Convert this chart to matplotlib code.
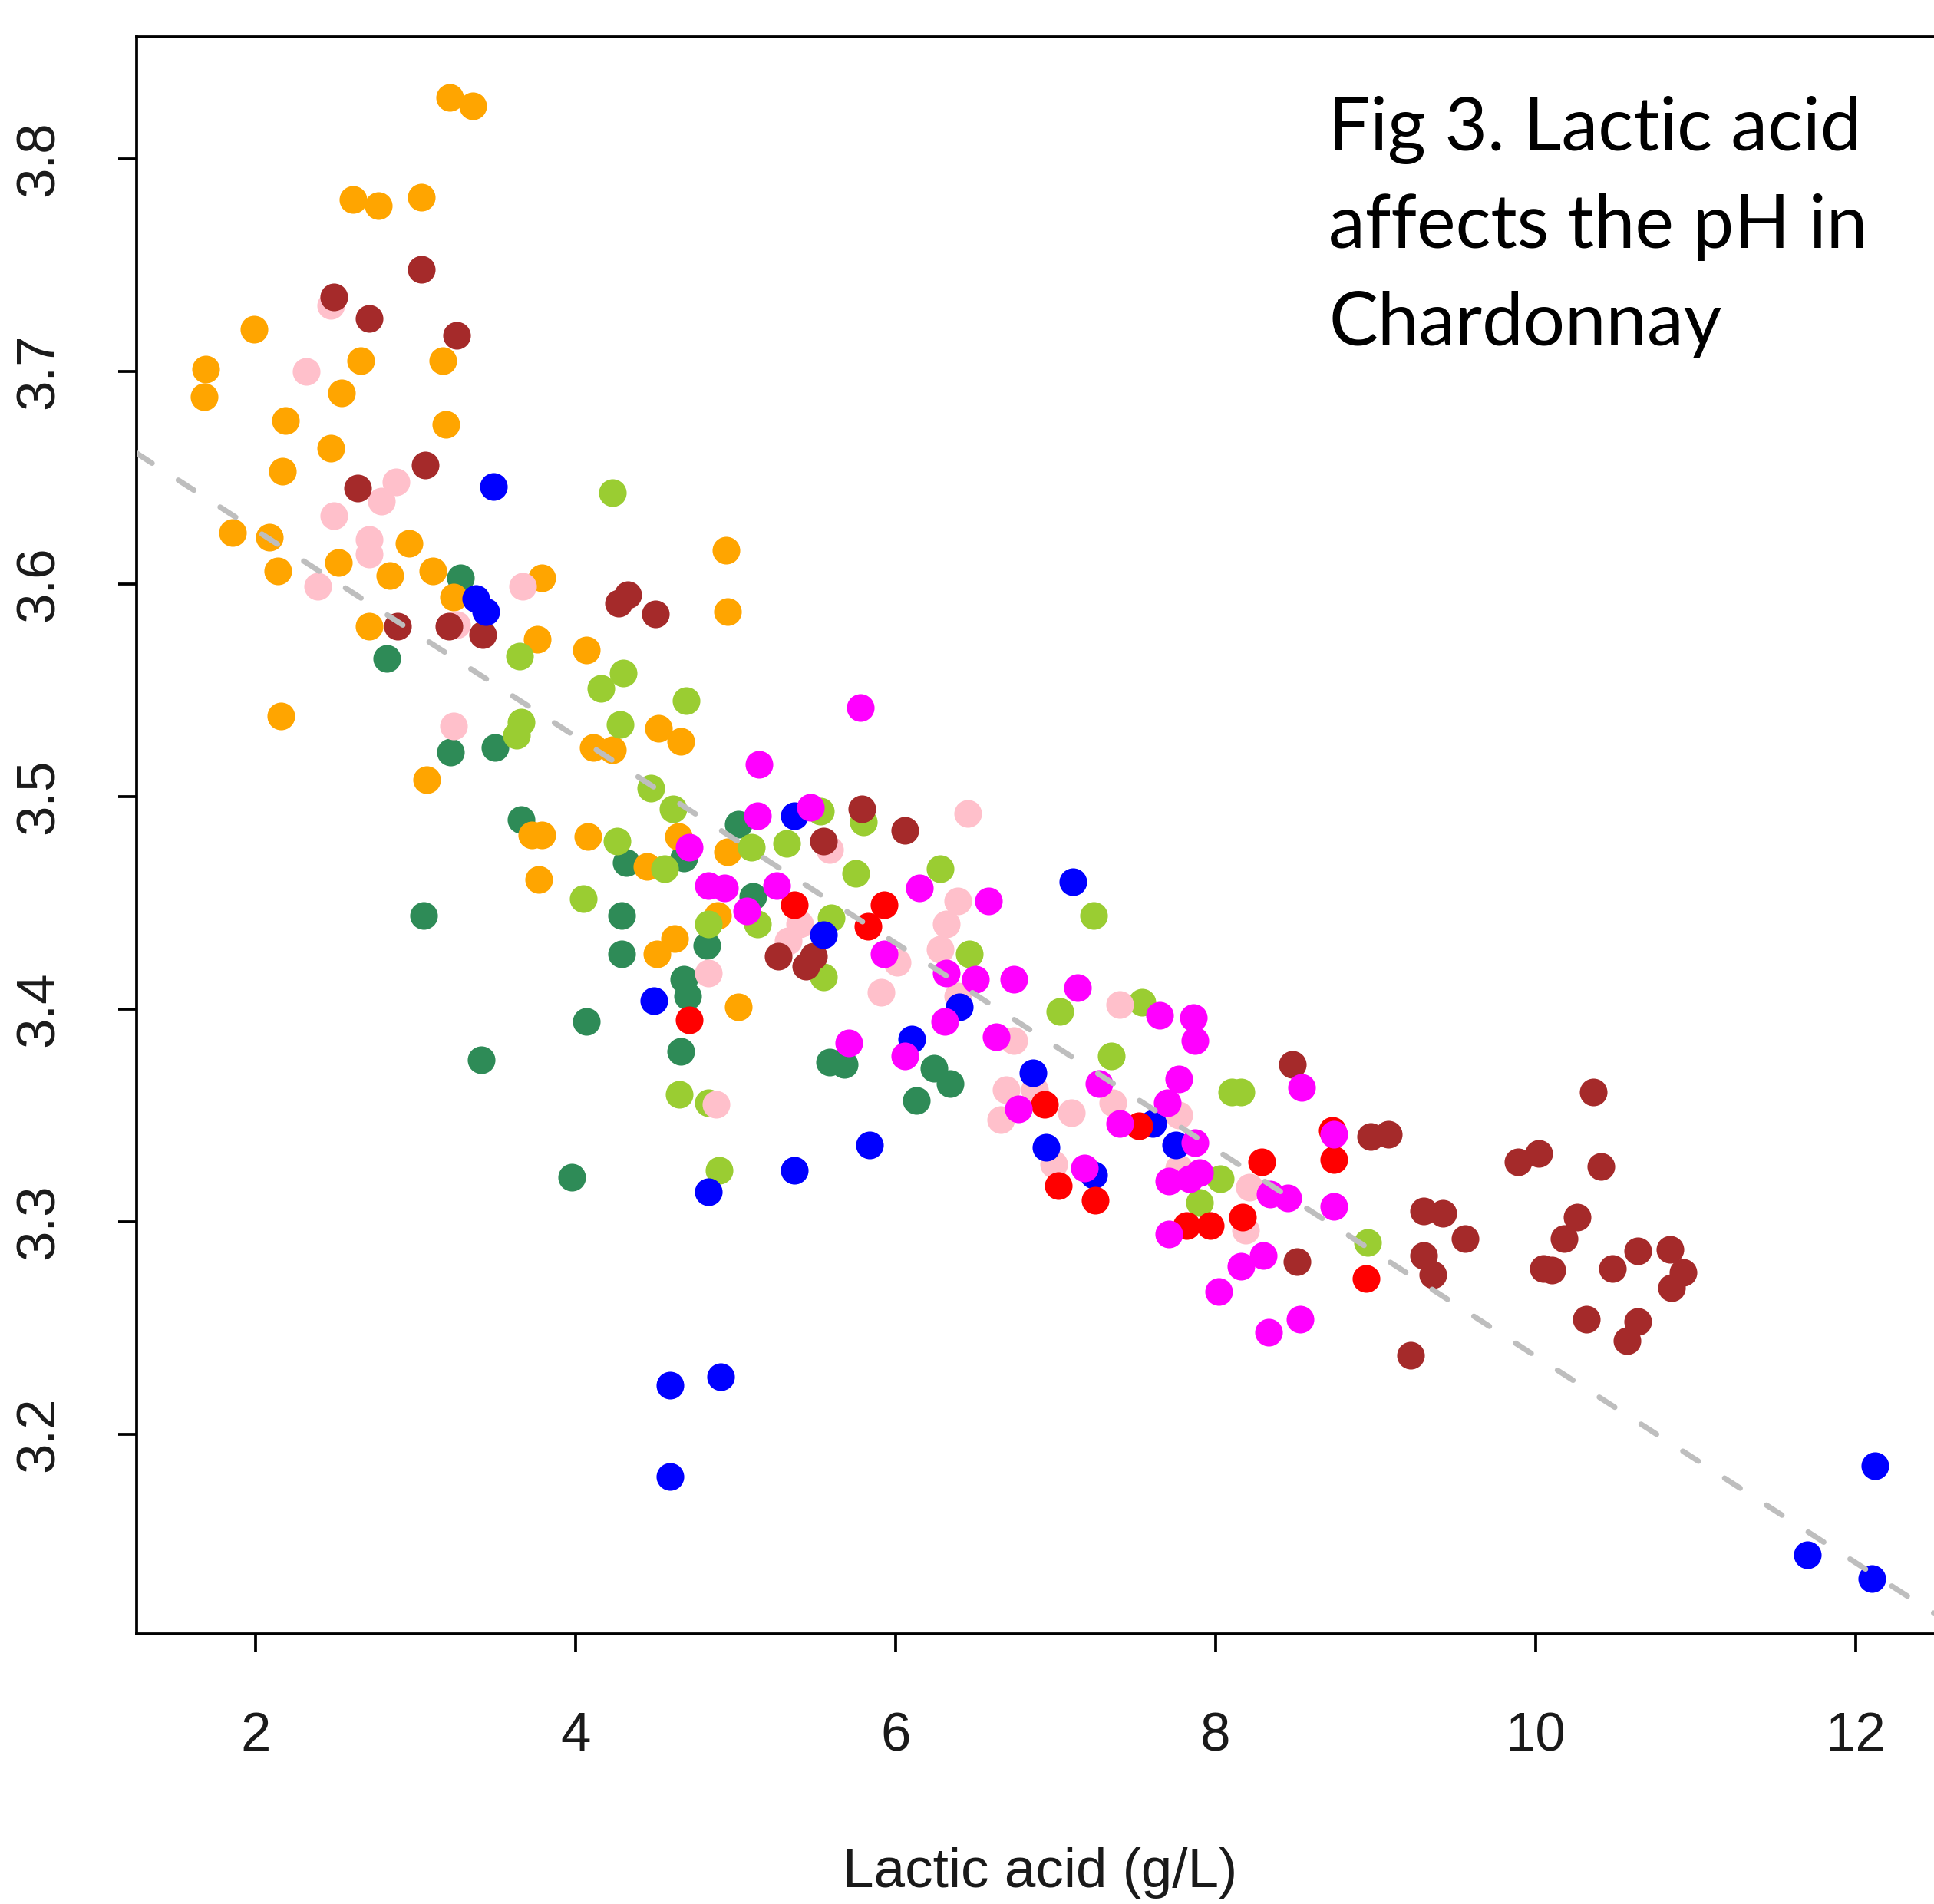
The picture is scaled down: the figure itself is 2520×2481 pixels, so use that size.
import matplotlib
matplotlib.use("Agg")
import matplotlib.pyplot as plt

# Lactic acid (g/L) vs pH, one list per group colour
orange_x = [3.215, 3.36, 2.61, 2.77, 3.04, 1.99, 1.69, 1.68, 2.66, 3.17, 2.54, 2.19, 3.19, 2.47,
            2.17, 1.86, 2.09, 2.14, 2.52, 2.96, 2.84, 3.11, 3.24, 2.71, 2.16, 3.07, 4.94, 3.79,
            4.95, 3.76, 4.07, 4.11, 4.23, 4.52, 4.66, 3.73, 3.79, 4.08, 4.645, 4.45, 4.95, 3.77,
            4.89, 4.51, 4.62, 5.02]
orange_y = [3.829, 3.825, 3.781, 3.778, 3.782, 3.720, 3.701, 3.688, 3.705, 3.705, 3.690, 3.677, 3.675, 3.664,
            3.653, 3.624, 3.622, 3.606, 3.610, 3.619, 3.604, 3.606, 3.594, 3.580, 3.538, 3.508, 3.616, 3.603,
            3.587, 3.574, 3.569, 3.523, 3.522, 3.532, 3.526, 3.482, 3.482, 3.481, 3.481, 3.467, 3.474, 3.461,
            3.444, 3.426, 3.433, 3.401]

pink_x = [2.47, 2.32, 2.88, 2.79, 2.49, 2.71, 2.71, 2.39, 3.26, 3.24, 3.67, 4.83, 4.88, 6.45,
          5.59, 5.33, 5.40, 6.01, 5.91, 6.39, 6.32, 6.28, 6.39, 6.74, 6.69, 6.87, 6.66, 7.40,
          7.10, 7.36, 7.77, 6.99, 7.77, 8.21, 8.19]
pink_y = [3.731, 3.700, 3.648, 3.639, 3.632, 3.621, 3.614, 3.599, 3.581, 3.533, 3.599, 3.417, 3.355, 3.492,
          3.475, 3.432, 3.440, 3.422, 3.408, 3.451, 3.440, 3.428, 3.406, 3.385, 3.362, 3.362, 3.348, 3.402,
          3.351, 3.356, 3.350, 3.327, 3.325, 3.316, 3.296]

brown_x = [3.04, 2.49, 2.71, 3.26, 3.06, 2.64, 2.89, 3.21, 3.42, 4.27, 4.33, 4.50, 5.79, 6.06,
           5.55, 5.27, 5.49, 5.44, 8.48, 8.97, 9.08, 10.36, 9.89, 10.02, 10.41, 9.30, 9.42, 9.56,
           10.26, 10.18, 10.64, 10.84, 10.48, 10.05, 10.10, 9.30, 9.36, 10.32, 10.64, 10.57, 10.85,
           10.92, 9.22, 8.51]
brown_y = [3.748, 3.735, 3.725, 3.717, 3.656, 3.645, 3.580, 3.580, 3.576, 3.591, 3.595, 3.586, 3.494, 3.484,
           3.479, 3.425, 3.425, 3.420, 3.374, 3.340, 3.341, 3.361, 3.328, 3.332, 3.326, 3.305, 3.304, 3.292,
           3.302, 3.292, 3.286, 3.287, 3.278, 3.278, 3.277, 3.284, 3.275, 3.254, 3.253, 3.244, 3.269,
           3.276, 3.237, 3.281]

seagreen_x = [3.28, 2.82, 3.22, 3.50, 3.66, 5.02, 4.32, 4.68, 3.05, 4.29, 4.82, 4.29, 4.68, 4.70,
              4.66, 4.07, 3.41, 3.98, 5.11, 5.59, 5.68, 6.24, 6.34, 6.13]
seagreen_y = [3.603, 3.565, 3.521, 3.523, 3.489, 3.487, 3.469, 3.471, 3.444, 3.444, 3.430, 3.426, 3.414, 3.406,
              3.380, 3.394, 3.376, 3.321, 3.453, 3.375, 3.374, 3.372, 3.365, 3.357]

yellowgreen_x = [4.23, 3.65, 4.30, 4.16, 4.69, 3.66, 3.63, 4.28, 4.47, 4.61, 4.26, 4.56, 4.05, 4.83,
                 4.65, 4.83, 4.90, 5.53, 5.80, 5.10, 5.32, 5.75, 6.28, 5.14, 5.60, 5.55, 6.46, 7.03,
                 7.24, 7.54, 7.35, 8.10, 8.16, 8.03, 7.90, 8.95]
yellowgreen_y = [3.643, 3.566, 3.558, 3.551, 3.545, 3.535, 3.529, 3.534, 3.504, 3.494, 3.479, 3.466, 3.452, 3.440,
                 3.360, 3.356, 3.324, 3.493, 3.488, 3.476, 3.478, 3.464, 3.466, 3.440, 3.443, 3.415, 3.426, 3.399,
                 3.444, 3.403, 3.378, 3.361, 3.361, 3.320, 3.309, 3.290]

blue_x = [3.49, 3.38, 3.44, 5.37, 4.49, 5.55, 6.40, 6.10, 6.86, 7.11, 7.61, 6.94, 7.75, 7.24,
          5.84, 5.37, 4.83, 4.59, 4.91, 4.59, 11.70, 12.10, 12.12]
blue_y = [3.646, 3.593, 3.587, 3.491, 3.404, 3.435, 3.401, 3.386, 3.370, 3.460, 3.346, 3.335, 3.336, 3.322,
          3.336, 3.324, 3.314, 3.223, 3.227, 3.180, 3.143, 3.132, 3.185]

red_x = [4.71, 5.37, 5.93, 5.83, 6.93, 7.52, 8.73, 8.74, 7.02, 7.25, 7.82, 7.97, 8.29, 8.17, 8.94]
red_y = [3.395, 3.449, 3.449, 3.439, 3.355, 3.345, 3.343, 3.329, 3.317, 3.310, 3.298, 3.298, 3.328, 3.302, 3.273]

magenta_x = [4.71, 4.83, 4.93, 5.15, 5.14, 5.47, 5.78, 5.26, 5.07, 5.93, 6.15, 6.58, 6.32, 6.50,
             6.74, 6.31, 6.63, 5.71, 6.06, 6.77, 7.14, 7.65, 7.86, 7.87, 7.27, 7.77, 8.54, 7.70,
             7.40, 8.74, 7.87, 7.18, 7.71, 7.84, 7.90, 7.71, 8.34, 8.45, 8.30, 8.16, 8.02, 8.33,
             8.53, 8.74]
magenta_y = [3.476, 3.458, 3.457, 3.515, 3.491, 3.495, 3.542, 3.458, 3.446, 3.426, 3.457, 3.451, 3.417, 3.414,
             3.414, 3.394, 3.387, 3.384, 3.378, 3.353, 3.410, 3.397, 3.396, 3.385, 3.365, 3.367, 3.363, 3.356,
             3.346, 3.341, 3.337, 3.325, 3.319, 3.320, 3.323, 3.294, 3.313, 3.311, 3.284, 3.279, 3.267, 3.248,
             3.254, 3.307]

# fitted line
fit_intercept = 3.7227
fit_slope = -0.0486

x_ticks = [2, 4, 6, 8, 10, 12]
y_ticks = [3.2, 3.3, 3.4, 3.5, 3.6, 3.7, 3.8]
title_lines = ["Fig 3. Lactic acid", "affects the pH in", "Chardonnay"]

groups = [
    (seagreen_x, seagreen_y, "#2E8B57"),
    (orange_x, orange_y, "#FFA500"),
    (yellowgreen_x, yellowgreen_y, "#9ACD32"),
    (pink_x, pink_y, "#FFC0CB"),
    (brown_x, brown_y, "#A52A2A"),
    (blue_x, blue_y, "#0000FF"),
    (red_x, red_y, "#FF0000"),
    (magenta_x, magenta_y, "#FF00FF"),
]

fig = plt.figure(figsize=(8.4, 8.27), dpi=300)
ax = fig.add_axes([0.0706, 0.1419, 0.936, 0.8388])

for xs, ys, col in groups:
    ax.scatter(xs, ys, s=75, color=col, linewidths=0, zorder=3)

ax.axline((0, fit_intercept), slope=fit_slope, color="#BEBEBE", lw=1.7,
          linestyle=(0, (3.4, 5.75)), dash_capstyle="round", zorder=4)

ax.set_xlim(1.258, 12.57)
ax.set_ylim(3.106, 3.8575)
ax.set_xticks(x_ticks)
ax.set_yticks(y_ticks)
ax.set_xticklabels([str(t) for t in x_ticks])
ax.set_yticklabels([f"{t:.1f}" for t in y_ticks])
for side in ["left", "top", "bottom", "right"]:
    ax.spines[side].set_linewidth(0.9)
ax.tick_params(axis="both", length=5.8, width=0.9, labelsize=17, color="black")
ax.tick_params(axis="x", pad=18.5)
ax.tick_params(axis="y", pad=16.5, labelrotation=90)
for lab in ax.get_xticklabels() + ax.get_yticklabels():
    lab.set_fontfamily("Liberation Sans")
    lab.set_color("#1a1a1a")
for lab in ax.get_yticklabels():
    lab.set_verticalalignment("center")

fig.text(1355 / 2520, 1 - 2440 / 2481, "Lactic acid (g/L)", ha="center", va="center",
         fontsize=17.5, family="Liberation Sans", color="#1a1a1a")

for i, line in enumerate(title_lines):
    fig.text(1731 / 2520, 1 - (196 + 127 * i) / 2481, line, ha="left", va="baseline",
             fontsize=23, family="Lato", color="black")

fig.savefig("out.png", dpi=300, facecolor="white")
